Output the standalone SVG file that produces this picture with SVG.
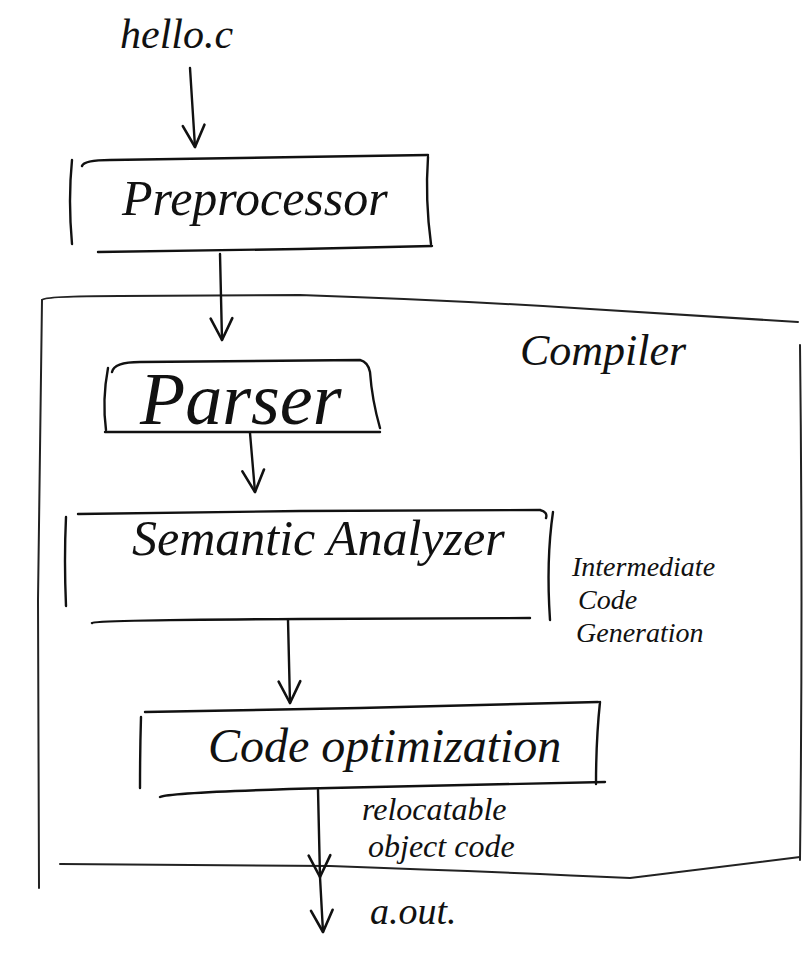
<svg xmlns="http://www.w3.org/2000/svg" width="804" height="954" viewBox="0 0 804 954">
<style>
.ln{fill:none;stroke:#111;stroke-width:2.4;stroke-linecap:round;stroke-linejoin:round}
.fr{fill:none;stroke:#222;stroke-width:2;stroke-linecap:round;stroke-linejoin:round}
.t{font-family:"Liberation Serif","DejaVu Serif",serif;font-style:italic;fill:#111}
</style>
<defs>
<marker id="ah" viewBox="0 0 24 24" refX="22" refY="12" markerWidth="26" markerHeight="26" markerUnits="userSpaceOnUse" orient="auto">
<path d="M2,2 L22,12 L2,22" fill="none" stroke="#111" stroke-width="2.4" stroke-linecap="round" stroke-linejoin="round"/>
</marker>
</defs>
<rect width="804" height="954" fill="#fff"/>

<g id="compiler">
<path class="fr" d="M42 300 Q44 296 120 296 L300 295 Q450 300 590 309 L798 322"/>
<path class="fr" d="M42 300 Q40 450 38 600 L39 888"/>
<path class="fr" d="M800 345 Q803 600 800 860"/>
<path class="fr" d="M60 864 L330 866 Q500 872 630 878 L800 857"/>
<text class="t" x="520" y="365" font-size="44">Compiler</text>
</g>

<g id="hello">
<text class="t" x="120" y="48" font-size="42">hello.c</text>
</g>

<g id="preprocessor">
<path class="ln" d="M72 160 Q68 200 72 244"/>
<path class="ln" d="M82 166 Q84 160 110 160 L300 157 L428 155"/>
<path class="ln" d="M428 157 Q425 200 431 244"/>
<path class="ln" d="M98 252 L300 249 L432 246"/>
<text class="t" x="122" y="215" font-size="50">Preprocessor</text>
</g>

<g id="parser">
<path class="ln" d="M108 368 Q102 400 106 430"/>
<path class="ln" d="M112 372 Q114 362 140 362 L360 360 Q368 362 370 372 Q372 400 380 428"/>
<path class="ln" d="M105 432 L380 432"/>
<text class="t" x="140" y="424" font-size="74">Parser</text>
</g>

<g id="semantic">
<path class="ln" d="M66 517 Q64 560 66 606"/>
<path class="ln" d="M78 514 L300 511 L540 510 Q548 512 546 518"/>
<path class="ln" d="M553 512 Q546 560 550 620"/>
<path class="ln" d="M92 623 Q94 620 300 619 L530 618"/>
<text class="t" x="132" y="555" font-size="50">Semantic Analyzer</text>
</g>

<g id="icg">
<text class="t" x="572" y="576" font-size="28">Intermediate</text>
<text class="t" x="578" y="609" font-size="28">Code</text>
<text class="t" x="576" y="642" font-size="28">Generation</text>
</g>

<g id="codeopt">
<path class="ln" d="M141 717 Q140 750 140 788"/>
<path class="ln" d="M145 712 L360 708 L598 702"/>
<path class="ln" d="M600 702 Q596 740 596 784"/>
<path class="ln" d="M160 797 Q170 792 330 788 L605 782"/>
<text class="t" x="208" y="762" font-size="48">Code optimization</text>
</g>

<g id="relocatable">
<text class="t" x="362" y="820" font-size="32">relocatable</text>
<text class="t" x="368" y="857" font-size="32">object code</text>
</g>

<g id="aout">
<text class="t" x="370" y="924" font-size="38">a.out.</text>
</g>

<g id="connectors">
<path class="ln" d="M190 68 L195 147" marker-end="url(#ah)"/>
<path class="ln" d="M220 254 L222 340" marker-end="url(#ah)"/>
<path class="ln" d="M250 433 L255 492" marker-end="url(#ah)"/>
<path class="ln" d="M288 620 L290 703" marker-end="url(#ah)"/>
<path class="ln" d="M318 790 L320 877" marker-end="url(#ah)"/>
<path class="ln" d="M320 877 L323 932" marker-end="url(#ah)"/>
</g>
</svg>
